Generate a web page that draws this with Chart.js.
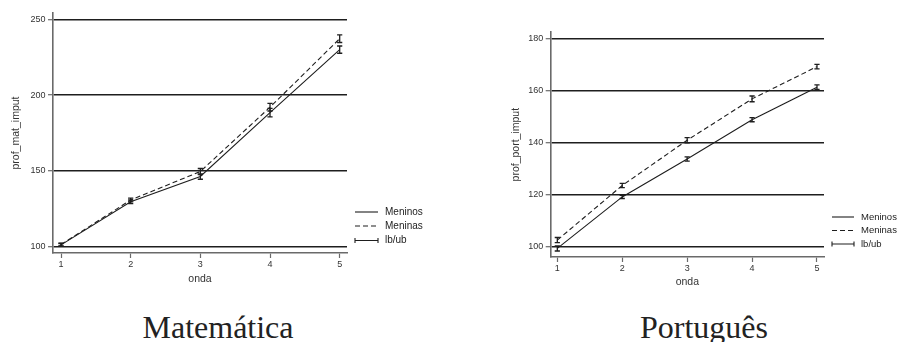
<!DOCTYPE html>
<html>
<head>
<meta charset="utf-8">
<script src="https://cdn.jsdelivr.net/npm/chart.js@4.4.1/dist/chart.umd.min.js"></script>
<style>
  html, body { margin: 0; padding: 0; background: #fff; }
  body { width: 897px; height: 342px; position: relative; overflow: hidden; }
  .panel { position: absolute; top: 0; height: 300px; }
  .caption {
    position: absolute; font-family: "Liberation Serif", "DejaVu Serif", serif;
    font-size: 32px; line-height: 32px; color: #222; white-space: nowrap;
    transform: translateX(-50%);
  }
</style>
</head>
<body>
<div class="panel" style="left:0;width:450px"><canvas id="mat" width="450" height="300"></canvas></div>
<div class="panel" style="left:450px;width:447px"><canvas id="port" width="447" height="300"></canvas></div>
<div class="caption" style="left:218px;top:311px">Matemática</div>
<div class="caption" style="left:704px;top:311px">Português</div>
<script>
// Waves of the survey (x axis)
const ondas = [1, 2, 3, 4, 5];

// Mathematics proficiency, mean with lower/upper bounds
const matMeninos   = [101.2, 129.6, 146.3, 188.4, 230.0];
const matMeninosLb = [100.3, 128.4, 144.5, 185.6, 227.6];
const matMeninosUb = [102.1, 130.8, 148.1, 191.2, 232.4];
const matMeninas   = [101.4, 130.8, 149.6, 192.0, 237.2];
const matMeninasLb = [100.5, 129.6, 147.6, 189.5, 234.7];
const matMeninasUb = [102.3, 132.0, 151.6, 194.5, 239.7];

// Portuguese proficiency, mean with lower/upper bounds
const portMeninos   = [99.2, 119.0, 133.6, 148.7, 161.2];
const portMeninosLb = [98.2, 118.4, 132.8, 147.9, 160.3];
const portMeninosUb = [100.2, 119.6, 134.4, 149.5, 162.1];
const portMeninas   = [102.4, 123.4, 140.8, 156.7, 169.1];
const portMeninasLb = [101.4, 122.6, 139.8, 155.6, 168.2];
const portMeninasUb = [103.4, 124.2, 141.8, 157.8, 170.0];

// Tick labels
const matYTicks = [100, 150, 200, 250];
const portYTicks = [100, 120, 140, 160, 180];
const xTicks = [1, 2, 3, 4, 5];

const seriesLabels = ['Meninos', 'Meninas'];
const boundsLabel = 'lb/ub';

const SANS = '"Liberation Sans", Arial, sans-serif';
const INK = '#1e1e1e';
const AXIS = '#6a6a6a';

const toPoints = (vals) => vals.map((v, i) => ({ x: ondas[i], y: v }));

// Vertical capped bars from lb to ub for each dataset carrying bounds
const errorBarPlugin = {
  id: 'errorBars',
  afterDatasetsDraw(chart) {
    const { ctx, scales: { x, y } } = chart;
    ctx.save();
    ctx.strokeStyle = INK;
    ctx.lineWidth = 1.3;
    chart.data.datasets.forEach(ds => {
      if (!ds.lb) return;
      ds.lb.forEach((lo, i) => {
        const px = x.getPixelForValue(ondas[i]);
        const y0 = y.getPixelForValue(lo);
        const y1 = y.getPixelForValue(ds.ub[i]);
        ctx.beginPath();
        ctx.moveTo(px, y0); ctx.lineTo(px, y1);
        ctx.moveTo(px - 2.6, y0); ctx.lineTo(px + 2.6, y0);
        ctx.moveTo(px - 2.6, y1); ctx.lineTo(px + 2.6, y1);
        ctx.stroke();
      });
    });
    ctx.restore();
  }
};

// Key at the right of the plot: solid, dashed and capped-range samples
const keyPlugin = {
  id: 'sideKey',
  afterDraw(chart, args, opts) {
    const { ctx } = chart;
    ctx.save();
    ctx.font = opts.fontSize + 'px ' + SANS;
    ctx.fillStyle = '#222';
    ctx.textBaseline = 'middle';
    ctx.textAlign = 'left';
    const labels = chart.data.datasets.map(d => d.label).concat([boundsLabel]);
    labels.forEach((lab, i) => {
      const ry = opts.rows[i];
      ctx.strokeStyle = INK;
      ctx.lineWidth = 1.1;
      ctx.setLineDash(i === 1 ? [5, 3] : []);
      ctx.beginPath();
      ctx.moveTo(opts.x0, ry); ctx.lineTo(opts.x1, ry);
      if (i === 2) {
        ctx.moveTo(opts.x0, ry - 2.6); ctx.lineTo(opts.x0, ry + 2.6);
        ctx.moveTo(opts.x1, ry - 2.6); ctx.lineTo(opts.x1, ry + 2.6);
      }
      ctx.stroke();
      ctx.fillText(lab, opts.textX, ry);
    });
    ctx.restore();
  }
};

function makeChart(id, cfg) {
  return new Chart(document.getElementById(id), {
    type: 'line',
    data: {
      datasets: [
        { label: seriesLabels[0], data: toPoints(cfg.boys), lb: cfg.boysLb, ub: cfg.boysUb,
          borderColor: INK, borderWidth: 1.1, pointRadius: 0, tension: 0, fill: false },
        { label: seriesLabels[1], data: toPoints(cfg.girls), lb: cfg.girlsLb, ub: cfg.girlsUb,
          borderColor: INK, borderWidth: 1.1, borderDash: [5, 3], pointRadius: 0, tension: 0, fill: false }
      ]
    },
    options: {
      responsive: false,
      animation: false,
      events: [],
      layout: { padding: cfg.padding },
      plugins: {
        legend: { display: false },
        tooltip: { enabled: false },
        sideKey: cfg.key
      },
      scales: {
        x: {
          type: 'linear', min: cfg.xMin, max: cfg.xMax,
          afterBuildTicks: s => { s.ticks = xTicks.map(v => ({ value: v })); },
          afterFit: s => { s.height = 40; },
          grid: { drawOnChartArea: false, drawTicks: true, tickLength: 5, tickColor: AXIS, tickWidth: 1.2 },
          border: { display: true, color: AXIS, width: 1.6 },
          ticks: { font: { family: SANS, size: 9 }, color: '#333', padding: 1, maxRotation: 0 },
          title: { display: true, text: 'onda', font: { family: SANS, size: 10.5 }, color: '#333',
                   padding: { top: 0, bottom: cfg.xTitlePad } }
        },
        y: {
          type: 'linear', min: cfg.yMin, max: cfg.yMax,
          afterBuildTicks: s => { s.ticks = cfg.yTicks.map(v => ({ value: v })); },
          afterFit: s => { s.width = cfg.yWidth; },
          grid: { color: INK, lineWidth: 1.4, drawTicks: true, tickLength: 5, tickColor: AXIS, tickWidth: 1.2 },
          border: { display: true, color: AXIS, width: 1.6 },
          ticks: { font: { family: SANS, size: 9 }, color: '#333', padding: 2.5 },
          title: { display: true, text: cfg.yTitle, font: { family: SANS, size: 10.5 }, color: '#333',
                   padding: { top: 9.7, bottom: 0 } }
        }
      }
    },
    plugins: [errorBarPlugin, keyPlugin]
  });
}

makeChart('mat', {
  boys: matMeninos, boysLb: matMeninosLb, boysUb: matMeninosUb,
  girls: matMeninas, girlsLb: matMeninasLb, girlsUb: matMeninasUb,
  yTicks: matYTicks, yMin: 95.85, yMax: 254.15, xMin: 0.885, xMax: 5.105,
  yTitle: 'prof_mat_imput', yWidth: 53, xTitlePad: 7.4,
  padding: { left: 0, top: 13, right: 103, bottom: 7 },
  key: { x0: 355, x1: 378, textX: 385, rows: [212, 226, 240.5], fontSize: 10 }
});

makeChart('port', {
  boys: portMeninos, boysLb: portMeninosLb, boysUb: portMeninosUb,
  girls: portMeninas, girlsLb: portMeninasLb, girlsUb: portMeninasUb,
  yTicks: portYTicks, yMin: 95.9, yMax: 182.3, xMin: 0.898, xMax: 5.108,
  yTitle: 'prof_port_imput', yWidth: 50.7, xTitlePad: 9,
  padding: { left: 50, top: 32.3, right: 73, bottom: 3 },
  key: { x0: 382, x1: 404, textX: 411, rows: [217, 230.5, 244], fontSize: 9.5 }
});
</script>
</body>
</html>
